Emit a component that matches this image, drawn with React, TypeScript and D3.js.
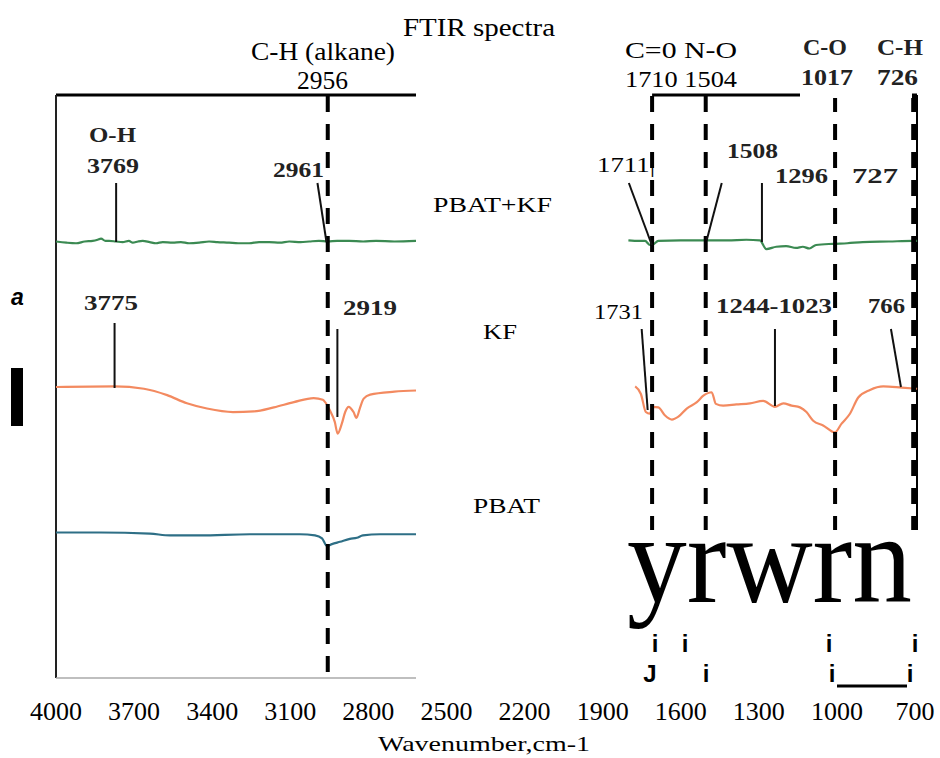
import React from "react";
import * as d3 from "d3";

const W = 940;
const H = 758;

// ---- data ----
const xTicks = [4000, 3700, 3400, 3100, 2800, 2500, 2200, 1900, 1600, 1300, 1000, 700];
const seriesNames = ["PBAT+KF", "KF", "PBAT"];
const seriesOffsets = [75, 50, 25];
const seriesColors = ["#3b8a52", "#f38a60", "#2e6f86"];

// [wavenumber, intensity relative to baseline]
const pbatKfLeft: [number, number][] = [
  [4000, 0], [3960, -0.2], [3923, -0.3], [3890, 0], [3859, 0.1], [3840, 0.3], [3827, 0.5], [3810, 0.1],
  [3796, 0.1], [3770, 0], [3744, -0.1], [3720, 0.1], [3705, -0.2], [3685, 0], [3667, 0.1], [3640, -0.1],
  [3616, -0.3], [3590, -0.1], [3552, -0.2], [3520, -0.1], [3489, -0.3], [3450, -0.2], [3412, 0], [3380, -0.1],
  [3335, -0.2], [3300, -0.3], [3258, -0.3], [3220, -0.1], [3181, -0.1], [3140, -0.2], [3104, 0], [3060, -0.1],
  [3027, 0], [2990, 0.1], [2956, 0], [2920, 0.1], [2874, 0.1], [2820, 0], [2770, 0.1], [2700, 0], [2617, 0.1],
];
const pbatKfRight: [number, number][] = [
  [1801, 0.2], [1760, 0.1], [1737, 0.1], [1718, -0.6], [1706, -0.5], [1686, 0.1], [1600, 0.2], [1501, 0.2],
  [1420, 0.2], [1348, 0.3], [1296, 0.2], [1271, -1.3], [1233, -0.9], [1195, -0.8], [1157, -1.1], [1131, -0.9],
  [1106, -1.2], [1080, -0.6], [1016, -0.4], [960, -0.3], [901, -0.1], [800, 0], [709, 0.1], [692, 0.1],
];
const kfLeft: [number, number][] = [
  [4000, 0], [3775, 0.1], [3662, -0.3], [3573, -1.4], [3497, -2.8], [3420, -3.7], [3320, -4.3], [3240, -4.2],
  [3163, -3.5], [3086, -2.6], [3010, -1.9], [2975, -2.2], [2966, -2.6], [2948, -4.0], [2929, -6.0], [2918, -8.0],
  [2902, -6.3], [2889, -4.3], [2876, -3.4], [2857, -4.3], [2846, -5.3], [2833, -3.7], [2818, -2.0], [2793, -1.3],
  [2700, -0.8], [2617, -0.6],
];
const kfRight: [number, number][] = [
  [1775, 0.1], [1753, -1.2], [1734, -4.3], [1719, -4.6], [1707, -3.4], [1686, -3.5], [1660, -4.9], [1634, -5.6],
  [1609, -5.1], [1577, -3.7], [1538, -2.6], [1513, -1.5], [1481, -0.9], [1465, -2.9], [1437, -3.2], [1386, -3.0],
  [1334, -2.8], [1283, -2.4], [1238, -3.4], [1206, -2.8], [1174, -3.2], [1142, -3.5], [1117, -4.3], [1091, -5.8],
  [1053, -6.6], [1008, -7.8], [982, -6.3], [950, -4.6], [918, -1.8], [873, -0.5], [822, 0.1], [751, -0.1], [692, -0.3],
];
const pbatLeft: [number, number][] = [
  [4000, 0], [3831, 0], [3639, -0.2], [3562, -0.5], [3447, -0.5], [3255, -0.3], [3063, -0.3], [3005, -0.5],
  [2978, -1.0], [2959, -2.3], [2940, -2.0], [2909, -1.6], [2871, -1.1], [2844, -0.9], [2821, -0.5], [2755, -0.3],
  [2617, -0.3],
];

// marker (dashed) line positions
const markerPositions = [2956, 1710, 1504, 1007, 705];
const leftPanelRange = [4000, 2617];
const rightPanelRange = [1710, 700];

const SERIF = "'Liberation Serif', 'Times New Roman', serif";
const SANS = "'Liberation Sans', Arial, sans-serif";

type Lbl = { t: string; x: number; y: number; w: number; fs: number; b?: boolean; fill?: string };

export default function App() {
  const x = d3.scaleLinear().domain([4000, 700]).range([56, 915]);
  const y = d3.scaleLinear().domain([0, 100]).range([678, 96]);

  const mk = (off: number) =>
    d3
      .line<[number, number]>()
      .x((d) => x(d[0]))
      .y((d) => y(off + d[1]))
      .curve(d3.curveMonotoneX);

  const traces = [
    { d: pbatKfLeft, s: 0 },
    { d: pbatKfRight, s: 0 },
    { d: kfLeft, s: 1 },
    { d: kfRight, s: 1 },
    { d: pbatLeft, s: 2 },
  ];

  const labels: Lbl[] = [
    { t: "FTIR  spectra", x: 403, y: 36, w: 152, fs: 25 },
    { t: "C-H  (alkane)", x: 251, y: 60, w: 144, fs: 26 },
    { t: "2956", x: 297, y: 89, w: 51, fs: 25 },
    { t: "C=0  N-O", x: 625, y: 58, w: 112, fs: 23 },
    { t: "1710 1504", x: 625, y: 87, w: 112, fs: 24 },
    { t: "C-O", x: 803, y: 55, w: 44, fs: 23, b: true, fill: "#222" },
    { t: "C-H", x: 877, y: 55, w: 46, fs: 23, b: true, fill: "#222" },
    { t: "1017", x: 801, y: 85, w: 52, fs: 24, b: true, fill: "#222" },
    { t: "726", x: 877, y: 85, w: 41, fs: 24, b: true, fill: "#222" },
    { t: "O-H", x: 89, y: 142, w: 47, fs: 21, b: true, fill: "#222" },
    { t: "3769", x: 87, y: 173, w: 52, fs: 22, b: true, fill: "#222" },
    { t: "2961", x: 273, y: 177, w: 51, fs: 22, b: true, fill: "#222" },
    { t: "1711|", x: 597, y: 172, w: 58, fs: 22 },
    { t: "1508", x: 727, y: 158, w: 51, fs: 22, b: true, fill: "#222" },
    { t: "1296", x: 775, y: 183, w: 53, fs: 22, b: true, fill: "#222" },
    { t: "727", x: 852, y: 183, w: 46, fs: 22, b: true, fill: "#222" },
    { t: "3775", x: 84, y: 310, w: 54, fs: 22, b: true, fill: "#222" },
    { t: "2919", x: 343, y: 315, w: 54, fs: 22, b: true, fill: "#222" },
    { t: "1731", x: 594, y: 319, w: 49, fs: 22 },
    { t: "1244-1023", x: 716, y: 313, w: 116, fs: 22, b: true, fill: "#222" },
    { t: "766", x: 868, y: 313, w: 37, fs: 22, b: true, fill: "#222" },
    { t: seriesNames[0], x: 433, y: 212, w: 119, fs: 21 },
    { t: seriesNames[1], x: 483, y: 339, w: 34, fs: 21 },
    { t: seriesNames[2], x: 473, y: 513, w: 67, fs: 21 },
    { t: "Wavenumber,cm-1", x: 378, y: 751, w: 212, fs: 21 },
  ];

  // leader lines: bottom at a wavenumber on a trace, top shifted by dx
  const leaders = [
    { wn: 3769, dx: 0, y1: 183, y2: 242 },
    { wn: 2961, dx: -9, y1: 183, y2: 242 },
    { wn: 1711, dx: -23, y1: 183, y2: 245 },
    { wn: 1500, dx: 15, y1: 183, y2: 240 },
    { wn: 1288, dx: 0, y1: 183, y2: 242 },
    { wn: 3775, dx: 0, y1: 323, y2: 388 },
    { wn: 2919, dx: 0, y1: 329, y2: 417 },
    { wn: 1727, dx: -6, y1: 329, y2: 410 },
    { wn: 1238, dx: 0, y1: 329, y2: 406 },
    { wn: 754, dx: -10, y1: 329, y2: 387 },
  ];

  const artifacts = [
    { t: "i", cx: 655, y: 652 },
    { t: "i", cx: 685, y: 652 },
    { t: "i", cx: 829, y: 652 },
    { t: "i", cx: 915, y: 652 },
    { t: "J", cx: 650, y: 682 },
    { t: "i", cx: 706, y: 682 },
    { t: "i", cx: 832, y: 682 },
    { t: "i", cx: 910, y: 682 },
  ];

  return (
    <svg
      width={W}
      height={H}
      viewBox={`0 0 ${W} ${H}`}
      style={{ position: "absolute", left: 0, top: 0, background: "#fff" }}
    >
      <rect x={0} y={0} width={W} height={H} fill="#fff" />
      {/* left panel frame */}
      <line x1={x(leftPanelRange[0])} x2={x(leftPanelRange[1])} y1={95} y2={95} stroke="#000" strokeWidth={3} />
      <line x1={x(leftPanelRange[0])} x2={x(leftPanelRange[0])} y1={95} y2={678} stroke="#222" strokeWidth={2} />
      <line x1={x(leftPanelRange[0])} x2={x(leftPanelRange[1])} y1={678} y2={678} stroke="#aaa" strokeWidth={1.5} />
      {/* right panel frame */}
      <line x1={x(rightPanelRange[0])} x2={x(rightPanelRange[1]) + 2} y1={95} y2={95} stroke="#000" strokeWidth={3} />
      <line x1={x(rightPanelRange[1]) + 2} x2={x(rightPanelRange[1]) + 2} y1={95} y2={530} stroke="#000" strokeWidth={2} />

      {/* traces */}
      {traces.map((tr, i) => (
        <path
          key={i}
          d={mk(seriesOffsets[tr.s])(tr.d) || ""}
          fill="none"
          stroke={seriesColors[tr.s]}
          strokeWidth={2.2}
        />
      ))}

      {/* dashed marker lines */}
      {markerPositions.map((m, i) => (
        <line
          key={i}
          x1={x(m)}
          x2={x(m)}
          y1={96}
          y2={i === 0 ? 678 : 530}
          stroke="#000"
          strokeWidth={i === 4 ? 5 : 4}
          strokeDasharray="16,12"
        />
      ))}

      {/* leaders */}
      {leaders.map((l, i) => (
        <line
          key={i}
          x1={x(l.wn) + l.dx}
          x2={x(l.wn)}
          y1={l.y1}
          y2={l.y2}
          stroke="#111"
          strokeWidth={2}
        />
      ))}

      {/* white background behind the bold C-O / C-H labels */}
      <rect x={800} y={28} width={112} height={70} fill="#fff" />

      {labels.map((l, i) => (
        <text
          key={i}
          x={l.x}
          y={l.y}
          fontSize={l.fs}
          fontFamily={SERIF}
          fontWeight={l.b ? "bold" : "normal"}
          fill={l.fill || "#000"}
          textLength={l.w}
          lengthAdjust="spacingAndGlyphs"
        >
          {l.t}
        </text>
      ))}

      {/* x tick labels */}
      {xTicks.map((t) => (
        <text key={t} x={x(t)} y={720} fontSize={26} fontFamily={SERIF} textAnchor="middle" fill="#000">
          {t}
        </text>
      ))}

      {/* panel letter and marker */}
      <text x={11} y={305} fontSize={23} fontFamily={SANS} fontWeight="bold" fontStyle="italic" fill="#000">
        a
      </text>
      <rect x={11} y={368} width={12} height={58} fill="#000" />

      {/* scanning artifacts */}
      <text x={627} y={602} fontSize={128} fontFamily={SERIF} textLength={285} lengthAdjust="spacingAndGlyphs" fill="#000">
        yrwrn
      </text>
      {artifacts.map((a, i) => (
        <text key={i} x={a.cx} y={a.y} fontSize={24} fontFamily={SANS} fontWeight="bold" textAnchor="middle" fill="#000">
          {a.t}
        </text>
      ))}
      <line x1={837} x2={907} y1={686} y2={686} stroke="#000" strokeWidth={3} />
    </svg>
  );
}
